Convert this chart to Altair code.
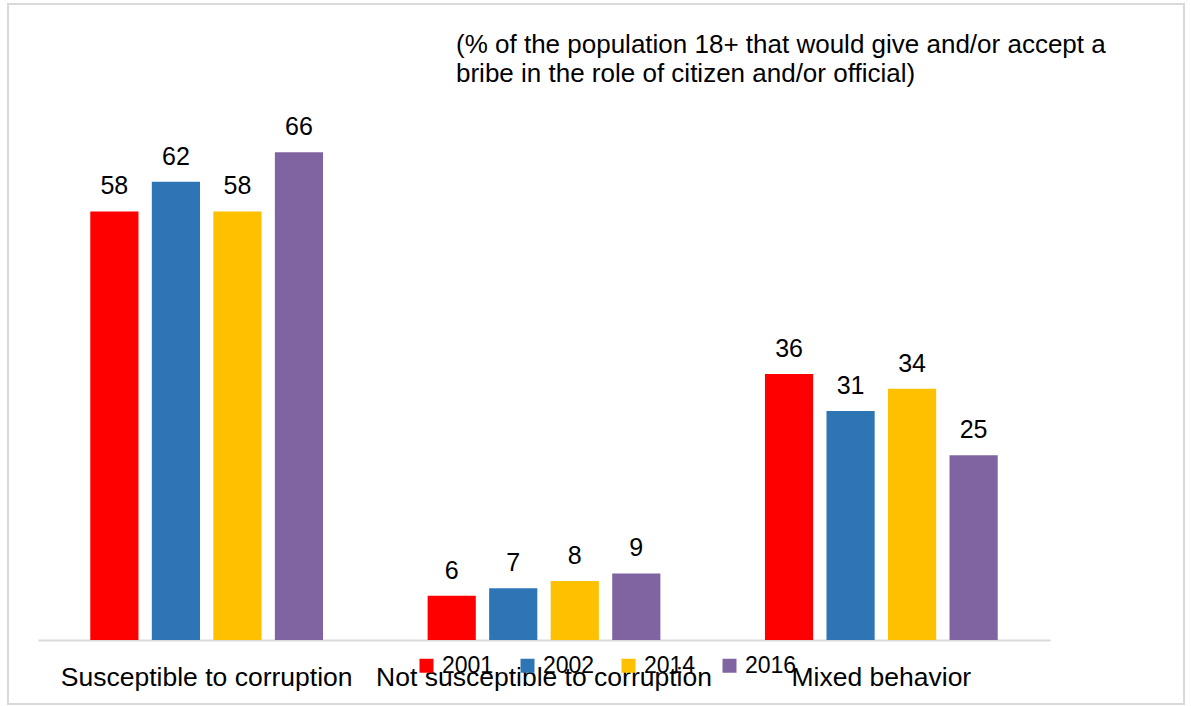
import altair as alt
import pandas as pd

categories = ["Susceptible to corruption", "Not susceptible to corruption", "Mixed behavior"]
years = ["2001", "2002", "2014", "2016"]
v2001 = [58, 6, 36]
v2002 = [62, 7, 31]
v2014 = [58, 8, 34]
v2016 = [66, 9, 25]
colors = ["#FF0000", "#2E75B6", "#FFC000", "#8064A2"]
subtitle = ["(% of the population 18+ that would give and/or accept a",
            " bribe in the role of citizen and/or official)"]

rows = []
for yr, vals in zip(years, [v2001, v2002, v2014, v2016]):
    for c, v in zip(categories, vals):
        rows.append({"category": c, "year": yr, "value": v})
df = pd.DataFrame(rows)

FONT = "Liberation Sans"

x = alt.X("category:N", sort=categories, title="",
          scale=alt.Scale(range=[30, 1042], paddingInner=0.31, paddingOuter=0.155),
          axis=alt.Axis(orient="bottom", offset=-64, domainColor="#d9d9d9", domainWidth=2,
                        ticks=False, labelAngle=0, labelFontSize=26.5, labelColor="#000000",
                        labelFont=FONT, labelPadding=24, labelLimit=400))
xo = alt.XOffset("year:N", sort=years, scale=alt.Scale(paddingInner=0.217, paddingOuter=0))
y = alt.Y("value:Q", axis=None, scale=alt.Scale(domain=[0, 70], range=[636, 118.7]))

base = alt.Chart(df).encode(x=x, xOffset=xo, y=y)

bars = base.mark_bar().encode(
    color=alt.Color("year:N", sort=years, scale=alt.Scale(domain=years, range=colors),
                    legend=alt.Legend(orient="none", legendX=407, legendY=650, direction="horizontal",
                                      title=None, symbolType="square", symbolSize=196,
                                      symbolStrokeWidth=0, labelFontSize=23, labelFont=FONT,
                                      labelColor="#000000", labelOffset=4, columnPadding=22,
                                      padding=0))
)
labels = base.mark_text(baseline="alphabetic", dy=-17, fontSize=25, font=FONT, color="#000000").encode(
    text="value:Q")

title_df = pd.DataFrame({"t": [subtitle[0], subtitle[1]], "i": [0, 1]})
title_txt = alt.Chart(title_df).mark_text(align="left", baseline="alphabetic", fontSize=26,
                                          font=FONT, color="#000000").encode(
    x=alt.value(448),
    y=alt.Y("i:Q", axis=None, scale=alt.Scale(domain=[0, 1], range=[49, 78])),
    text="t:N")

chart = alt.layer(bars, labels, title_txt).resolve_scale(y="independent").properties(
    width=1176, height=700,
    autosize=alt.AutoSizeParams(type="none"),
    padding={"left": 8, "top": 4, "right": 7, "bottom": 2},
    background="#ffffff",
).configure_view(stroke="#d9d9d9", strokeWidth=2)

chart.save("out.html", embed_options={"renderer": "svg", "actions": False})
